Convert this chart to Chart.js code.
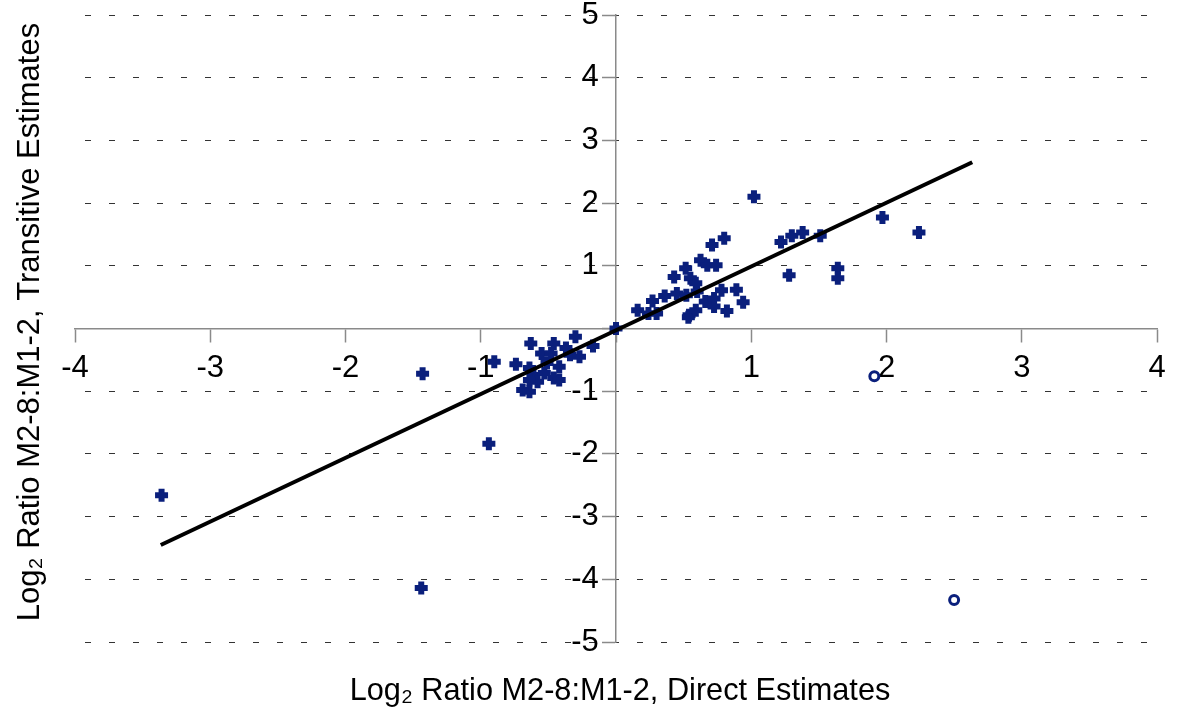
<!DOCTYPE html>
<html>
<head>
<meta charset="utf-8">
<script src="https://cdn.jsdelivr.net/npm/chart.js@4"></script>
<style>
  html, body { margin: 0; padding: 0; background: #fff; }
  #wrap { width: 1197px; height: 723px; }
</style>
</head>
<body>
<div id="wrap"><canvas id="myChart"></canvas></div>
<script>
// log2 ratios, direct (x) vs transitive (y) estimates
const directX = [
  -3.36, -1.44, -1.43, -0.94, -0.90,
  -0.63, -0.46, -0.30, -0.17, -0.37, -0.55, -0.48, -0.34, -0.27, -0.74, -0.64,
  -0.51, -0.42, -0.61, -0.53, -0.46, -0.42, -0.58, -0.64, -0.69, -0.64,
  0.00,
  0.16, 0.27, 0.24, 0.30, 0.36, 0.43, 0.45, 0.515, 0.52, 0.55, 0.59, 0.60,
  0.625, 0.675, 0.74, 0.71, 0.80, 0.66, 0.725, 0.725, 0.78, 0.54, 0.535, 0.59,
  0.82, 0.89, 0.94, 1.02, 1.22, 1.30, 1.28, 1.38, 1.51, 1.64, 1.64, 1.97, 2.24
];
const transitiveY = [
  -2.66, -4.14, -0.72, -1.84, -0.53,
  -0.24, -0.24, -0.13, -0.28, -0.31, -0.40, -0.40, -0.42, -0.45, -0.57, -0.63,
  -0.55, -0.61, -0.74, -0.71, -0.79, -0.82, -0.85, -0.82, -0.98, -1.01,
  0.00,
  0.29, 0.44, 0.24, 0.24, 0.52, 0.82, 0.56, 0.96, 0.53, 0.80, 0.72, 0.59,
  1.09, 1.01, 1.01, 1.33, 1.44, 0.43, 0.35, 0.48, 0.61, 0.21, 0.18, 0.29,
  0.28, 0.62, 0.42, 2.10, 1.38, 1.48, 0.85, 1.53, 1.48, 0.96, 0.80, 1.77, 1.53
];

// excluded points (open circles)
const outlierX = [1.91, 2.50];
const outlierY = [-0.76, -4.33];

// fitted line end points
const fitX = [-3.366, 2.634];
const fitY = [-3.453, 2.651];

const xTitle = 'Log\u2082 Ratio M2-8:M1-2, Direct Estimates';
const yTitle = 'Log\u2082 Ratio M2-8:M1-2, Transitive Estimates';

const navy = '#0a1f7c';
const fontFamily = '"Liberation Sans", Arial, sans-serif';

const toPoints = (xs, ys) => xs.map((x, i) => ({ x: x, y: ys[i] }));

// axis titles drawn by hand, since the axes sit at the origin
const axisTitles = {
  id: 'axisTitles',
  afterDraw(chart) {
    const ctx = chart.ctx;
    ctx.save();
    ctx.fillStyle = '#000';
    ctx.textAlign = 'center';
    ctx.textBaseline = 'middle';
    ctx.font = '30.7px ' + fontFamily;
    ctx.fillText(xTitle, 620, 692);
    ctx.font = '31px ' + fontFamily;
    ctx.translate(30, 322);
    ctx.rotate(-Math.PI / 2);
    ctx.fillText(yTitle, 0, 0);
    ctx.restore();
  }
};

const data = {
  datasets: [
    {
      label: 'Estimates',
      data: toPoints(directX, transitiveY),
      pointStyle: 'cross',
      pointRadius: 6.5,
      pointHoverRadius: 6.5,
      pointBorderWidth: 6,
      borderColor: navy,
      backgroundColor: navy,
      showLine: false,
      order: 2
    },
    {
      label: 'Excluded',
      data: toPoints(outlierX, outlierY),
      pointStyle: 'circle',
      pointRadius: 4.5,
      pointBorderWidth: 3,
      borderColor: navy,
      backgroundColor: '#fff',
      showLine: false,
      order: 3
    },
    {
      type: 'line',
      label: 'Fit',
      data: toPoints(fitX, fitY),
      borderColor: '#000',
      borderWidth: 4,
      pointRadius: 0,
      fill: false,
      order: 1
    }
  ]
};

const config = {
  type: 'scatter',
  data: data,
  plugins: [axisTitles],
  options: {
    responsive: true,
    maintainAspectRatio: false,
    animation: false,
    layout: { padding: { left: 75, right: 40, top: 15, bottom: 81 } },
    plugins: {
      legend: { display: false },
      tooltip: { enabled: false }
    },
    scales: {
      x: {
        type: 'linear',
        position: { y: 0 },
        min: -4,
        max: 4,
        ticks: {
          stepSize: 1,
          padding: 11,
          color: '#000',
          font: { size: 31, family: fontFamily, lineHeight: 1.0 },
          callback: v => (v === 0 ? '' : v)
        },
        grid: {
          drawOnChartArea: false,
          drawTicks: true,
          tickLength: 13,
          tickColor: '#8a8a8a',
          tickWidth: 1.5
        },
        border: { color: '#8a8a8a', width: 1.5 }
      },
      y: {
        type: 'linear',
        position: { x: 0 },
        min: -5,
        max: 5,
        ticks: {
          stepSize: 1,
          padding: 0,
          color: '#000',
          font: { size: 31, family: fontFamily, lineHeight: 0.95 },
          // trailing spaces keep the labels clear of the tick marks
          callback: v => (v === 0 ? '' : v + '  ')
        },
        grid: {
          color: ctx => (ctx.tick && ctx.tick.value === 0 ? 'rgba(0,0,0,0)' : '#333'),
          lineWidth: 1,
          drawTicks: true,
          tickLength: 13,
          tickColor: '#8a8a8a',
          tickWidth: 1.5,
          tickBorderDash: []
        },
        border: { color: '#8a8a8a', width: 1.5, dash: [6, 18], dashOffset: 14 }
      }
    }
  }
};

// eslint-disable-next-line
const myChart = new Chart(document.getElementById('myChart'), config);
</script>
</body>
</html>
